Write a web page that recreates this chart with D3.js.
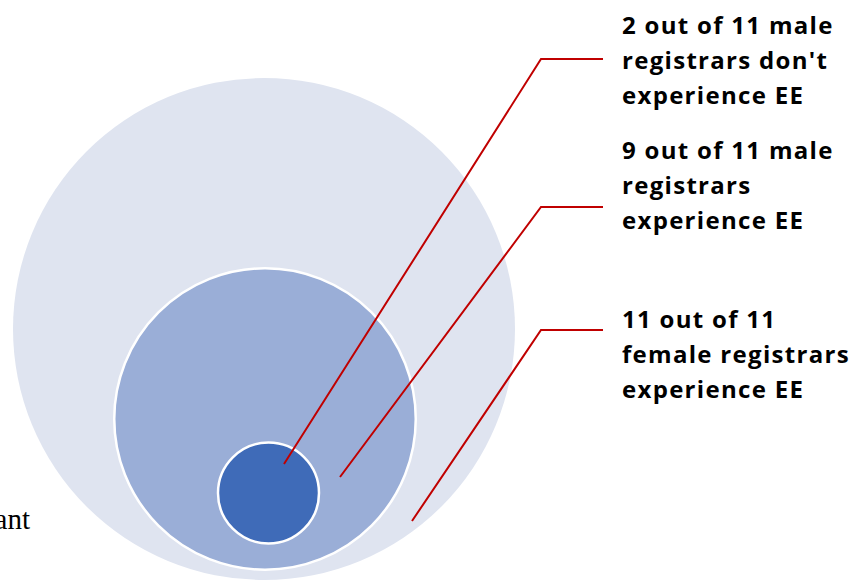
<html>
<head>
<style>
body { margin: 0; background: #fff; }
</style>
</head>
<body>
<div id="chart"></div>
<script src="https://d3js.org/d3.v7.min.js"></script>
<script>

// data
var groups = ["female", "male", "male"]
var counts = [11, 9, 2]
var totals = [11, 11, 11]
var labels = [
    ["2 out of 11 male", "registrars don't", "experience EE"],
    ["9 out of 11 male", "registrars", "experience EE"],
    ["11 out of 11", "female registrars", "experience EE"]
]
var levels = [0, 1, 2]   // nesting depth: outer -> inner
var colors = ["#dfe4f0", "#9aaed7", "#3f6bb8"]
var red = "#c00000"

var width = 864, height = 581

var svg = d3.select("#chart")
  .append("svg")
  .attr("width", width)
  .attr("height", height)

// nested circle scales
var r = d3.scaleLinear().domain([0, 2]).range([251, 50.5])
var cx = d3.scaleLinear().domain([0, 1, 2]).range([264, 265, 268.5])
var cy = d3.scaleLinear().domain([0, 1, 2]).range([329, 419, 493])

svg.selectAll(".ring")
    .data(levels)
    .enter()
    .append("circle")
    .attr("class", "ring")
    .attr("cx", d => cx(d))
    .attr("cy", d => cy(d))
    .attr("r", d => r(d))
    .attr("fill", d => colors[d])
    .attr("stroke", d => d == 0 ? "none" : "#fff")
    .attr("stroke-width", 2.5)

// callouts: label order is inner -> outer
var textX = 622
var lineH = 35
var blockTop = d3.scaleLinear().domain([0, 1, 2]).range([33.5, 158.5, 327.5])
var knee = d3.scaleLinear().domain([0, 1, 2]).range([59, 207, 330])
// where each leader ends inside its circle
var tipX = [284, 340, 412]
var tipY = [464, 477, 521]

var callouts = svg.selectAll(".callout")
    .data(labels)
    .enter()
    .append("g")
    .attr("class", "callout")

callouts.append("polyline")
    .attr("points", function(d, i){
        return tipX[i] + "," + tipY[i] + " 541," + knee(i) + " 603," + knee(i)
    })
    .attr("fill", "none")
    .attr("stroke", red)
    .attr("stroke-width", 2)

callouts.append("text")
    .attr("x", textX)
    .attr("y", (d, i) => blockTop(i))
    .style("font-family", "'Open Sans', sans-serif")
    .style("font-weight", "bold")
    .style("font-size", "24px")
    .style("letter-spacing", "1.3px")
    .style("fill", "#000")
    .selectAll("tspan")
    .data(d => d)
    .enter()
    .append("tspan")
    .attr("x", textX)
    .attr("dy", (d, i) => i == 0 ? 0 : lineH)
    .text(d => d)

// cut-off word at bottom left
svg.append("text")
    .attr("x", 30)
    .attr("y", 529)
    .attr("text-anchor", "end")
    .style("font-family", "'Liberation Serif', serif")
    .style("font-size", "29px")
    .style("fill", "#000")
    .text("ant")

</script>
</body>
</html>
